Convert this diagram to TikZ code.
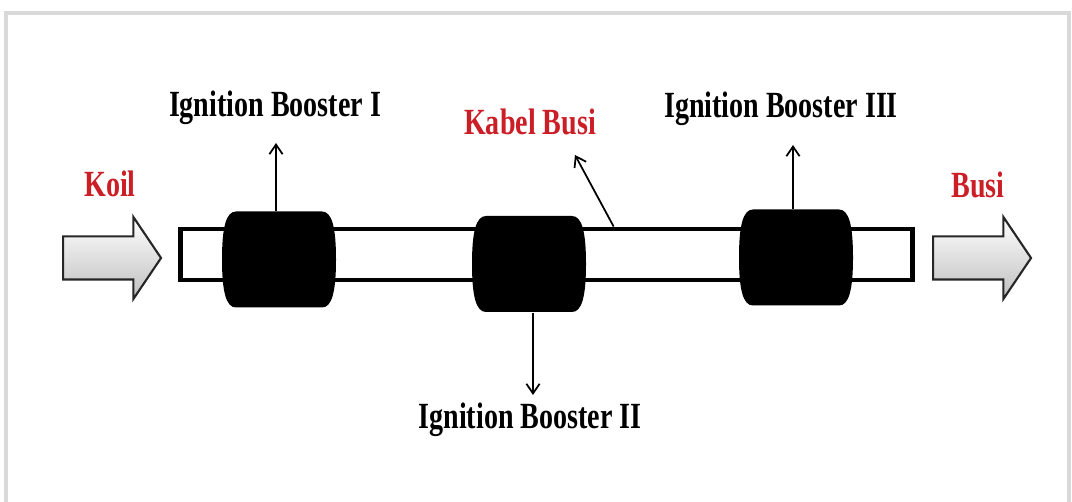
\documentclass[tikz,border=0pt]{standalone}
\usepackage{fontspec}
\setmainfont{Liberation Serif}[FakeStretch=0.76]
\usepackage{tikz}
\usetikzlibrary{positioning,shapes,arrows,arrows.meta,calc}
\definecolor{busired}{RGB}{204,30,38}

\begin{document}
\begin{tikzpicture}
            [x=0.02cm,y=-0.02cm,
             lbl/.style={font=\fontsize{21}{25}\selectfont\bfseries, inner sep=0pt, anchor=base},
             redlbl/.style={lbl, text=busired},
             cable/.style={draw, line width=2.8pt, minimum width=14.66cm, minimum height=1.02cm, inner sep=0pt},
             booster/.style={minimum width=2.28cm, minimum height=1.94cm, inner sep=0pt},
             blockarrow/.style={single arrow, draw=black!85, line width=1.2pt, top color=white, bottom color=black!25,
                                inner xsep=0pt, inner ysep=0.41cm, minimum height=1.96cm,
                                single arrow head extend=0.39cm, single arrow tip angle=112, anchor=tail},
             pointer/.style={-{Straight Barb[length=5.5pt,width=7.5pt]}, line width=1pt}]
            \useasboundingbox (0,0) rectangle (1072,502);
            % faint page frame
            \draw[black!15, line width=2pt] (6,13) rectangle (1069,530);

            % cable and the three boosters on it
            \node[cable] (cable) at (546.5,254.5) {};
            \node[booster] (b1) at (279,259.5) {};
            \node[booster] (b2) at (529,264) {};
            \node[booster] (b3) at (796,257.5) {};
            \foreach \b in {b1,b2,b3}
            \fill[shift={(\b.center)}] (-43,-48) -- (43,-48) .. controls (53,-48) and (57,-32) .. (57,0)
                .. controls (57,32) and (53,48) .. (43,48) -- (-43,48) .. controls (-53,48) and (-57,32) .. (-57,0)
                .. controls (-57,-32) and (-53,-48) .. (-43,-48) -- cycle;

            % in and out
            \node[blockarrow] (koil) at (62,258) {};
            \node[blockarrow] (busi) at (932,258) {};

            % labels
            \node[redlbl] (lkoil) at (110,197) {Koil};
            \node[redlbl] (lbusi) at (978,198) {Busi};
            \node[redlbl] (lkabel) at (530,135) {Kabel Busi};
            \node[lbl] (l1) at (275,117) {Ignition Booster I};
            \node[lbl] (l2) at (530,429) {Ignition Booster II};
            \node[lbl] (l3) at (781,118) {Ignition Booster III};

            \coordinate (t1) at (276,143);
            \coordinate (t2) at (533,395);
            \coordinate (t3) at (793,145);
            \coordinate (tk) at (575,155);

            \foreach \from/\to in {b1.north/t1, b2.south/t2, b3.north/t3}
            \draw[pointer] (\from -| \to) -- (\to);
            \draw[pointer] ($(cable.north west)!0.591!(cable.north east)$) -- (tk);
          \end{tikzpicture}
\end{document}
